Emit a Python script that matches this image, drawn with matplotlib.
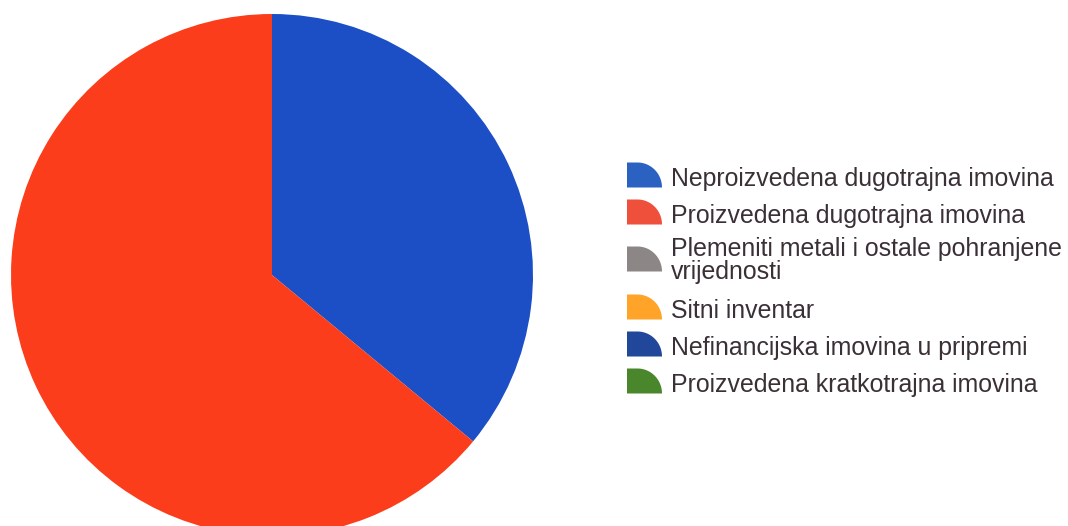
import numpy as np
import matplotlib
matplotlib.use("Agg")
import matplotlib.pyplot as plt
from matplotlib.patches import Polygon

categories = [
    "Neproizvedena dugotrajna imovina",
    "Proizvedena dugotrajna imovina",
    "Plemeniti metali i ostale pohranjene\nvrijednosti",
    "Sitni inventar",
    "Nefinancijska imovina u pripremi",
    "Proizvedena kratkotrajna imovina",
]
values = [36.0, 64.0, 0.0, 0.0, 0.0, 0.0]
pie_colors = ["#1c4fc6", "#fb3d1c", "#8a8a8a", "#ffa41f", "#1f3f8f", "#3f8a26"]
legend_colors = ["#2b62c2", "#ef503c", "#8c8686", "#ffa428", "#21479a", "#4a872c"]

W, H = 1068, 526
fig = plt.figure(figsize=(W / 100, H / 100), dpi=100)
ax = fig.add_axes([0, 0, 1, 1])

ax.pie(values, colors=pie_colors, startangle=90, counterclock=False,
       center=(272, H - 275), radius=261, frame=True,
       wedgeprops=dict(linewidth=0, antialiased=True))
ax.set_xlim(0, W)
ax.set_ylim(0, H)
ax.axis("off")

# legend (pixel layout, y measured from top)
handle_x, handle_w, handle_h = 627, 35, 25
text_x = 671
baselines = [186, 223, 256, 318, 355, 392]
line_step = 23


def quarter(x0, ytop, w, h, color):
    a = 0.3 * w
    t = np.linspace(np.pi / 2, 0, 30)
    yb = H - (ytop + h)
    pts = [(x0, yb), (x0, yb + h)]
    pts += [(x0 + a + (w - a) * np.cos(s), yb + h * np.sin(s)) for s in t]
    ax.add_patch(Polygon(pts, closed=True, facecolor=color, edgecolor="none"))


for cat, col, bl in zip(categories, legend_colors, baselines):
    lines = cat.split("\n")
    n = len(lines)
    cy = bl - 11 + (n - 1) * 14
    quarter(handle_x, cy - handle_h / 2, handle_w, handle_h, col)
    for i, ln in enumerate(lines):
        ax.text(text_x, H - (bl + i * line_step), ln, ha="left", va="baseline",
                fontsize=17.9, family="Liberation Sans", color="#3a3036")

fig.savefig("out.png", dpi=100)
